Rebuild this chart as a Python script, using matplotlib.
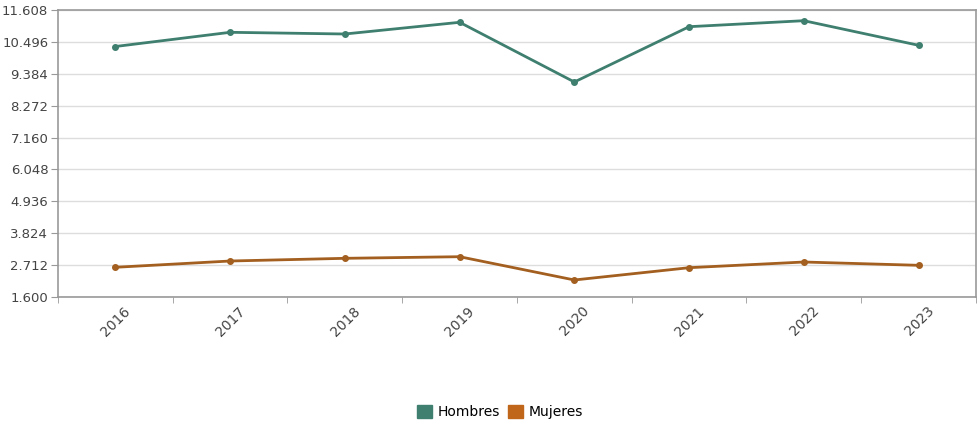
import matplotlib.pyplot as plt
import numpy as np
from matplotlib.transforms import ScaledTranslation

years = ['2016', '2017', '2018', '2019', '2020', '2021', '2022', '2023']
hombres = [10335, 10830, 10771, 11179, 9097, 11026, 11235, 10377]
mujeres = [2636, 2855, 2949, 3005, 2193, 2622, 2820, 2705]
y_ticks = [1600, 2712, 3824, 4936, 6048, 7160, 8272, 9384, 10496, 11608]
y_labels = ['1.600', '2.712', '3.824', '4.936', '6.048', '7.160', '8.272', '9.384', '10.496', '11.608']

c_h = '#3f7f6f'
c_m = '#a35f1f'

fig = plt.figure(figsize=(9.78, 4.28), dpi=100)
ax = fig.add_axes([58/978, 1 - 297/428, 918/978, 287/428])

x = np.arange(len(years))
ax.plot(x, hombres, color=c_h, lw=2, marker='o', ms=4, label='Hombres')
ax.plot(x, mujeres, color=c_m, lw=2, marker='o', ms=4, label='Mujeres')

ax.set_xlim(-0.5, len(years) - 0.5)
ax.set_ylim(y_ticks[0], y_ticks[-1])
ax.set_yticks(y_ticks)
ax.set_yticklabels(y_labels)
ax.set_xticks(x)
ax.set_xticklabels(years, rotation=45, ha='right', rotation_mode='anchor')
ax.set_xticks(np.arange(-0.5, len(years), 1), minor=True)
ax.tick_params(axis='x', which='major', length=0, pad=5, labelsize=10, labelcolor='#444444')
ax.tick_params(axis='x', which='minor', length=4, color='#999999')
ax.tick_params(axis='y', length=5, pad=2, color='#999999', labelsize=9.5, labelcolor='#444444')
# nudge year labels a bit to the right, as in the reference
for lab in ax.get_xticklabels():
    lab.set_transform(lab.get_transform() + ScaledTranslation(8/100, 0, fig.dpi_scale_trans))

ax.grid(axis='y', color='#dddddd', lw=1)
ax.set_axisbelow(True)
for s in ax.spines.values():
    s.set_color('#999999')
    s.set_linewidth(1.2)

handles = [plt.Rectangle((0, 0), 1, 1, color=c_h), plt.Rectangle((0, 0), 1, 1, color='#c0661a')]
fig.legend(handles, ['Hombres', 'Mujeres'], loc='center', bbox_to_anchor=(500/978, 1 - 412/428),
           ncol=2, frameon=False, fontsize=10, handlelength=1.1, handleheight=1.1,
           handletextpad=0.4, columnspacing=0.6)

fig.savefig('out.png', dpi=100)
